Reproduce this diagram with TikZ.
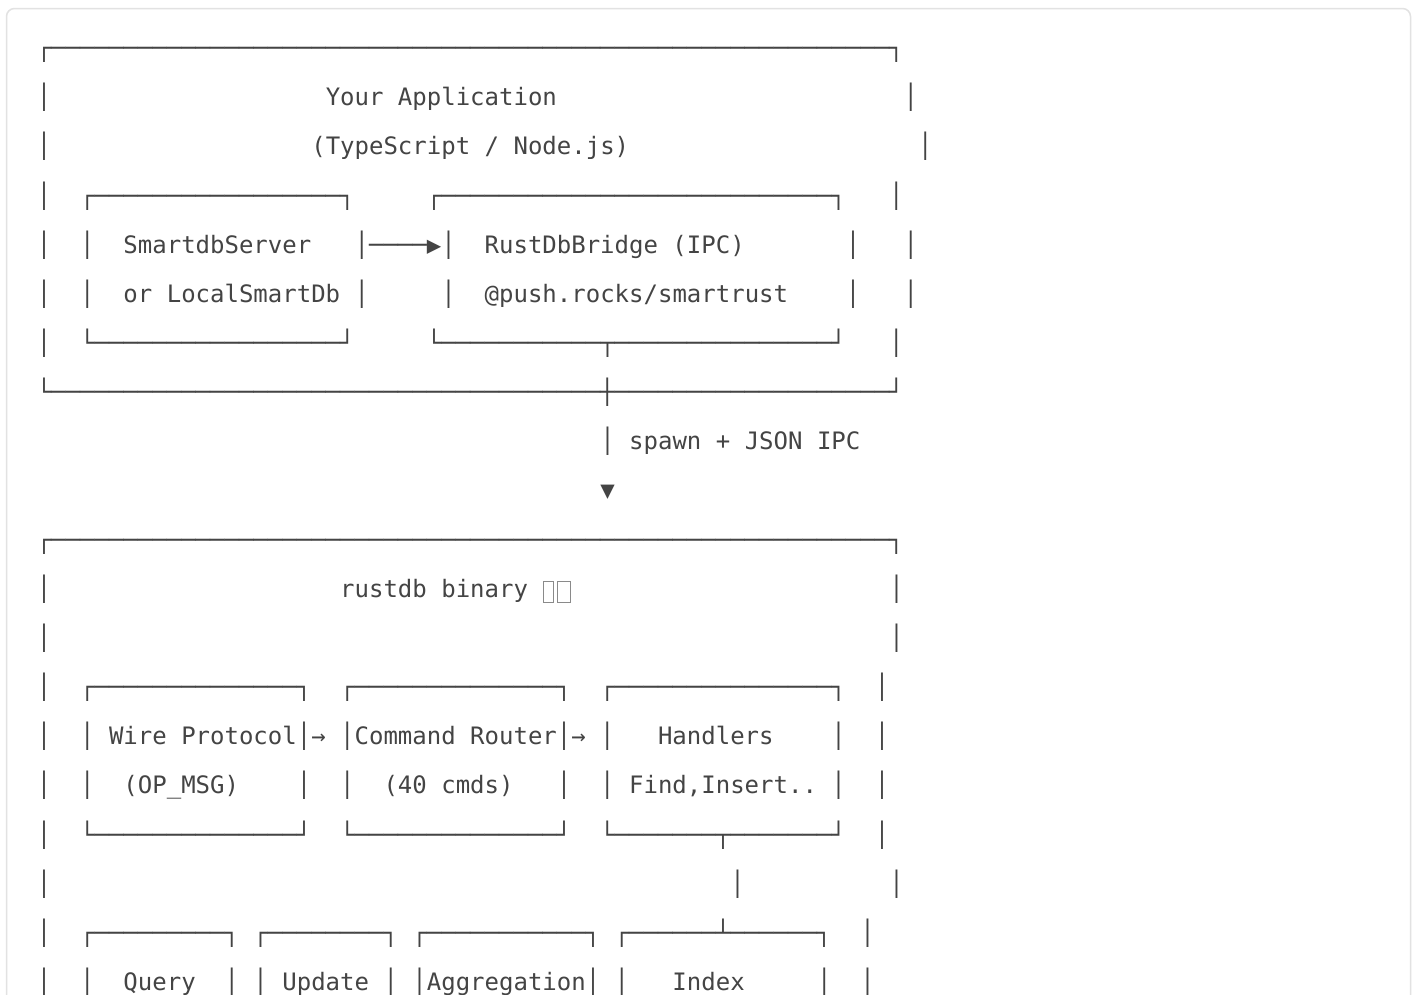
\documentclass[tikz,border=0pt]{standalone}
\usepackage{fontspec}
\newfontfamily\asciimono{DejaVu Sans Mono}
\usepackage{xcolor}
\definecolor{ink}{HTML}{444444}
\definecolor{framec}{HTML}{E2E2E2}
\definecolor{tofu}{HTML}{8A8A8A}
\ExplSyntaxOn
\cs_new:Npn \myrep #1#2 { \prg_replicate:nn {#1} {#2} }
\ExplSyntaxOff
\tikzset{
  asciiline/.style={anchor=base west, inner sep=0pt, outer sep=0pt, text=ink,
    font=\asciimono\fontsize{24pt}{24pt}\selectfont\frenchspacing},
  outerframe/.style={draw=framec, line width=1.5pt, rounded corners=8pt},
  tofubox/.style={draw=tofu, line width=0.9pt}
}
\begin{document}
\begin{tikzpicture}[x=1pt,y=-1pt]
\useasboundingbox (0,0) rectangle (1416,994);
\clip (0,0) rectangle (1416,994);
\fill[white] (0,0) rectangle (1416,994);
\draw[outerframe] (6.5,8.5) rectangle (1410.5,1040);
\def\lx{36.77}
\node[asciiline] (l1)  at (\lx,56.6)   {┌\myrep{58}{─}┐};
\node[asciiline] (l2)  at (\lx,105.75) {│\myrep{19}{~}Your Application\myrep{24}{~}│};
\node[asciiline] (l3)  at (\lx,154.9)  {│\myrep{18}{~}(TypeScript / Node.js)\myrep{20}{~}│};
\node[asciiline] (l4)  at (\lx,204.05) {│~~┌\myrep{17}{─}┐\myrep{5}{~}┌\myrep{27}{─}┐~~~│};
\node[asciiline] (l5)  at (\lx,253.2)  {│~~│~~SmartdbServer~~~│\myrep{4}{─}▶│~~RustDbBridge (IPC)\myrep{7}{~}│~~~│};
\node[asciiline] (l6)  at (\lx,302.35) {│~~│~~or LocalSmartDb~│\myrep{5}{~}│~~@push.rocks/smartrust\myrep{4}{~}│~~~│};
\node[asciiline] (l7)  at (\lx,351.5)  {│~~└\myrep{17}{─}┘\myrep{5}{~}└\myrep{11}{─}┬\myrep{15}{─}┘~~~│};
\node[asciiline] (l8)  at (\lx,400.65) {└\myrep{38}{─}┼\myrep{19}{─}┘};
\node[asciiline] (l9)  at (\lx,449.8)  {\myrep{39}{~}│ spawn + JSON IPC};
\node[asciiline] (l10) at (\lx,498.95) {\myrep{39}{~}▼};
\node[asciiline] (l11) at (\lx,548.1)  {┌\myrep{58}{─}┐};
\node[asciiline] (l12) at (\lx,597.25) {│\myrep{20}{~}rustdb binary\myrep{25}{~}│};
\node[asciiline] (l13) at (\lx,646.4)  {│\myrep{58}{~}│};
\node[asciiline] (l14) at (\lx,695.55) {│~~┌\myrep{14}{─}┐~~┌\myrep{14}{─}┐~~┌\myrep{15}{─}┐~~│};
\node[asciiline] (l15) at (\lx,744.7)  {│~~│~Wire Protocol│→~│Command Router│→~│~~~Handlers~~~~│~~│};
\node[asciiline] (l16) at (\lx,793.85) {│~~│~~(OP\_MSG)~~~~│~~│~~(40 cmds)~~~│~~│~Find,Insert..~│~~│};
\node[asciiline] (l17) at (\lx,843.0)  {│~~└\myrep{14}{─}┘~~└\myrep{14}{─}┘~~└\myrep{7}{─}┬\myrep{7}{─}┘~~│};
\node[asciiline] (l18) at (\lx,892.15) {│\myrep{47}{~}│\myrep{10}{~}│};
\node[asciiline] (l19) at (\lx,941.3)  {│~~┌\myrep{9}{─}┐~┌\myrep{8}{─}┐~┌\myrep{11}{─}┐~┌\myrep{6}{─}┴\myrep{6}{─}┐~~│};
\node[asciiline] (l20) at (\lx,990.45) {│~~│~~Query~~│~│~Update~│~│Aggregation│~│~~~Index\myrep{5}{~}│~~│};
% missing-glyph boxes after "rustdb binary"
\draw[tofubox] (543,581) rectangle (553.5,602);
\draw[tofubox] (557.5,581) rectangle (570.5,602);
\end{tikzpicture}
\end{document}
